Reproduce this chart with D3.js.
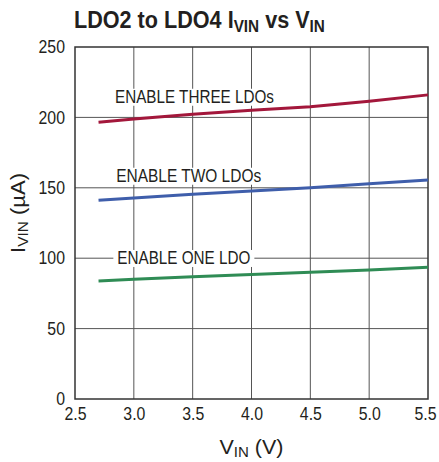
<!DOCTYPE html>
<html>
<head>
<meta charset="utf-8">
<script src="https://cdn.jsdelivr.net/npm/d3@7"></script>
<style>
	body { margin: 0; background: #fff; }
	text { font-family: "Liberation Sans", Arial, sans-serif; fill: #231f20; }
</style>
</head>
<body>
<script>
//values
var vin = [2.7, 3.0, 3.5, 4.0, 4.5, 5.0, 5.5];
var threeLdo = [196.5, 198.8, 202.2, 205.0, 207.6, 211.5, 216.0];
var twoLdo = [141.1, 142.8, 145.4, 147.8, 150.1, 152.8, 155.5];
var oneLdo = [83.8, 85.0, 86.9, 88.5, 90.0, 91.7, 93.5];

var xTicks = [2.5, 3.0, 3.5, 4.0, 4.5, 5.0, 5.5];
var yTicks = [0, 50, 100, 150, 200, 250];

var seriesNames = ["ENABLE THREE LDOs", "ENABLE TWO LDOs", "ENABLE ONE LDO"];
var seriesColors = ["#a3173b", "#3f5eab", "#2f8c55"];
var seriesValues = [threeLdo, twoLdo, oneLdo];
var labelAt = [[2.84, 210.4], [2.85, 154.3], [2.86, 95.9]]; //label anchor in data units
var labelWidth = [159, 145, 133];

var margin = {top: 47, right: 11, bottom: 63, left: 75},
	width = 439 - margin.left - margin.right,
	height = 462 - margin.top - margin.bottom;

var svg = d3.select("body").append("svg")
	.attr("width", 439)
	.attr("height", 462);

var xScale = d3.scaleLinear().domain([2.5, 5.5]).range([margin.left, margin.left + width]),
	yScale = d3.scaleLinear().domain([0, 250]).range([margin.top + height, margin.top]);

//fake a condensed face: squeeze text horizontally
function squeeze(t, ratio) {
	var w = t.node().getComputedTextLength();
	t.attr("textLength", w * ratio).attr("lengthAdjust", "spacingAndGlyphs");
}

//title, squeezed to look condensed
var title = svg.append("text")
	.style("font-size", "24px")
	.style("font-weight", "bold");
title.append("tspan").text("LDO2 to LDO4 I");
title.append("tspan").attr("dy", 4).style("font-size", "17px").text("VIN");
title.append("tspan").attr("dy", -4).text(" vs V");
title.append("tspan").attr("dy", 4).style("font-size", "17px").text("IN");
var tw = title.node().getBBox().width;
title.attr("transform", "translate(74,28) scale(" + (251 / tw) + ",1)");

//grid
svg.append("g").selectAll("line")
	.data(xTicks.slice(1, -1)).enter()
		.append("line")
		.attr("x1", function(d) { return xScale(d); })
		.attr("x2", function(d) { return xScale(d); })
		.attr("y1", margin.top)
		.attr("y2", margin.top + height)
		.style("stroke", "#555")
		.style("stroke-width", 1);
svg.append("g").selectAll("line")
	.data(yTicks.slice(1, -1)).enter()
		.append("line")
		.attr("y1", function(d) { return yScale(d); })
		.attr("y2", function(d) { return yScale(d); })
		.attr("x1", margin.left)
		.attr("x2", margin.left + width)
		.style("stroke", "#555")
		.style("stroke-width", 1);

//frame
svg.append("rect")
	.attr("x", margin.left)
	.attr("y", margin.top)
	.attr("width", width)
	.attr("height", height)
	.style("fill", "none")
	.style("stroke", "#333")
	.style("stroke-width", 1.5);

//axes (labels only)
var xAxis = d3.axisBottom(xScale).tickValues(xTicks).tickSize(0).tickPadding(8).tickFormat(d3.format(".1f"));
var yAxis = d3.axisLeft(yScale).tickValues(yTicks).tickSize(0).tickPadding(10);
var gx = svg.append("g")
	.attr("transform", "translate(0," + (margin.top + height) + ")")
	.call(xAxis);
var gy = svg.append("g")
	.attr("transform", "translate(" + margin.left + ",0)")
	.call(yAxis);
[gx, gy].forEach(function(g) {
	g.select(".domain").remove();
	g.selectAll("text")
		.style("font-family", null)
		.style("font-size", "18px")
		.attr("fill", "#231f20")
		.each(function() { squeeze(d3.select(this), 0.88); });
});
//keep the last x label inside the window
gx.selectAll(".tick text").filter(function(d) { return d === 5.5; })
	.attr("text-anchor", "end")
	.attr("dx", 8);

//lines
var line = d3.line()
	.x(function(d, i) { return xScale(vin[i]); })
	.y(function(d) { return yScale(d); });
seriesValues.forEach(function(vals, j) {
	svg.append("path")
		.datum(vals)
		.attr("d", line)
		.style("fill", "none")
		.style("stroke", seriesColors[j])
		.style("stroke-width", 3);
});

//series labels with white boxes cutting the grid
seriesNames.forEach(function(name, j) {
	var t = svg.append("text")
		.attr("x", xScale(labelAt[j][0]))
		.attr("y", yScale(labelAt[j][1]))
		.style("font-size", "18px")
		.attr("textLength", labelWidth[j])
		.attr("lengthAdjust", "spacingAndGlyphs")
		.text(name);
	var b = t.node().getBBox();
	svg.insert("rect", function() { return t.node(); })
		.attr("x", b.x - 4)
		.attr("y", b.y + 2)
		.attr("width", b.width + 8)
		.attr("height", b.height - 3)
		.style("fill", "#fff");
});

//axis titles
var xt = svg.append("text")
	.style("text-anchor", "middle")
	.style("font-size", "20px");
xt.append("tspan").text("V");
xt.append("tspan").attr("dy", 3).style("font-size", "14px").text("IN");
xt.append("tspan").attr("dy", -3).text(" (V)");
xt.attr("transform", "translate(" + xScale(4.0) + ",454) scale(" + (64 / xt.node().getBBox().width) + ",1)");

var yt = svg.append("text")
	.style("text-anchor", "middle")
	.style("font-size", "20px");
yt.append("tspan").text("I");
yt.append("tspan").attr("dy", 3).style("font-size", "14px").text("VIN");
yt.append("tspan").attr("dy", -3).text(" (\u00b5A)");
yt.attr("transform", "translate(25,213) rotate(-90) scale(" + (80 / yt.node().getBBox().width) + ",1)");
</script>
</body>
</html>
